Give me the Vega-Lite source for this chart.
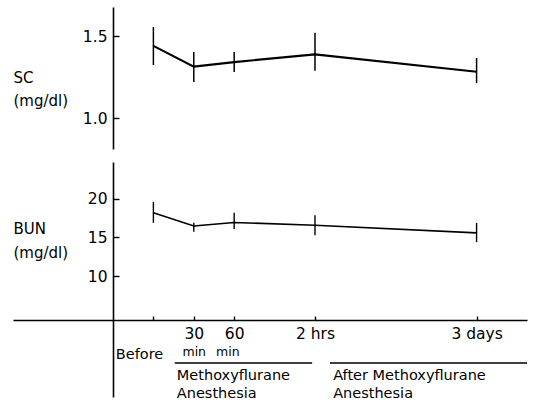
{
  "$schema": "https://vega.github.io/schema/vega-lite/v6.json",
  "background": "white",
  "padding": {"left": 13, "top": 7, "right": 10, "bottom": 5},
  "config": {
    "view": {"stroke": null},
    "font": "DejaVu Sans",
    "axis": {
      "grid": false,
      "domainColor": "black",
      "tickColor": "black",
      "labelColor": "black",
      "titleColor": "black",
      "domainWidth": 1.6,
      "tickWidth": 1.4,
      "labelFont": "DejaVu Sans",
      "titleFont": "DejaVu Sans",
      "titleFontWeight": "normal",
      "labelOverlap": false,
      "labelFlush": false
    }
  },
  "datasets": {
    "sc": [
      {"pos": 1, "mean": 1.44, "lo": 1.323, "hi": 1.555},
      {"pos": 2, "mean": 1.313, "lo": 1.22, "hi": 1.402},
      {"pos": 3, "mean": 1.341, "lo": 1.28, "hi": 1.402},
      {"pos": 5, "mean": 1.388, "lo": 1.288, "hi": 1.52},
      {"pos": 9, "mean": 1.282, "lo": 1.213, "hi": 1.366}
    ],
    "bun": [
      {"pos": 1, "mean": 18.2, "lo": 16.9, "hi": 19.6},
      {"pos": 2, "mean": 16.5, "lo": 15.75, "hi": 16.9},
      {"pos": 3, "mean": 16.95, "lo": 16.1, "hi": 18.2},
      {"pos": 5, "mean": 16.6, "lo": 15.3, "hi": 17.9},
      {"pos": 9, "mean": 15.6, "lo": 14.4, "hi": 16.9}
    ],
    "mins": [
      {"label": "min", "pos": 1.72, "line": 1.8},
      {"label": "min", "pos": 2.55, "line": 1.8}
    ],
    "notes": [
      {"label": "Before", "pos": 0.07, "line": 1.95},
      {"label": "Methoxyflurane", "pos": 1.58, "line": 3.1},
      {"label": "Anesthesia", "pos": 1.58, "line": 4.1},
      {"label": "After Methoxyflurane", "pos": 5.45, "line": 3.1},
      {"label": "Anesthesia", "pos": 5.45, "line": 4.1}
    ],
    "underlines": [
      {"pos": 1.53, "pos2": 4.93, "line": 2.39},
      {"pos": 5.37, "pos2": 10.25, "line": 2.39}
    ]
  },
  "bounds": "flush",
  "spacing": 13,
  "vconcat": [
    {
      "width": 514,
      "height": 142,
      "data": {"name": "sc"},
      "encoding": {
        "x": {"field": "pos", "type": "quantitative", "scale": {"domain": [-2.475, 10.248], "nice": false, "zero": false}, "axis": null}
      },
      "layer": [
        {
          "mark": {"type": "line", "color": "black", "strokeWidth": 2.2},
          "encoding": {
            "y": {
              "field": "mean", "type": "quantitative",
              "scale": {"domain": [0.811, 1.677], "nice": false, "zero": false},
              "axis": {
                "orient": "left", "offset": -100, "values": [1.0, 1.5], "format": ".1f",
                "tickSize": -6, "labelPadding": 12, "labelFontSize": 15.5,
                "title": ["SC", "(mg/dl)"], "titleAngle": 0, "titleAlign": "left", "titleBaseline": "alphabetic",
                "titleX": -100, "titleY": 75, "titleFontSize": 15, "titleLineHeight": 23
              }
            }
          }
        },
        {
          "mark": {"type": "rule", "color": "black", "strokeWidth": 1.5},
          "encoding": {
            "y": {"field": "lo", "type": "quantitative", "title": ["SC", "(mg/dl)"]},
            "y2": {"field": "hi"}
          }
        }
      ]
    },
    {
      "width": 514,
      "height": 235,
      "resolve": {"scale": {"y": "independent"}, "axis": {"y": "independent"}},
      "layer": [
        {
          "data": {"name": "bun"},
          "layer": [
            {
              "mark": {"type": "line", "color": "black", "strokeWidth": 1.6},
              "encoding": {
                "x": {
                  "field": "pos", "type": "quantitative",
                  "scale": {"domain": [-2.475, 10.248], "nice": false, "zero": false},
                  "axis": {
                    "orient": "bottom", "offset": -77, "values": [1, 2, 3, 5, 9],
                    "labelExpr": "datum.value == 2 ? '30' : datum.value == 3 ? '60' : datum.value == 5 ? '2 hrs' : datum.value == 9 ? '3 days' : ''",
                    "tickSize": -4, "labelPadding": 10, "labelFontSize": 15.5, "title": null
                  }
                },
                "y": {
                  "field": "mean", "type": "quantitative",
                  "scale": {"domain": [-5.714, 24.805], "nice": false, "zero": false},
                  "axis": {
                    "orient": "left", "offset": -100, "values": [10, 15, 20], "format": "d",
                    "tickSize": -6, "labelPadding": 12, "labelFontSize": 15.5,
                    "title": ["BUN", "(mg/dl)"], "titleAngle": 0, "titleAlign": "left", "titleBaseline": "alphabetic",
                    "titleX": -100, "titleY": 71, "titleFontSize": 15, "titleLineHeight": 24
                  }
                }
              }
            },
            {
              "mark": {"type": "rule", "color": "black", "strokeWidth": 1.4},
              "encoding": {
                "x": {"field": "pos", "type": "quantitative"},
                "y": {"field": "lo", "type": "quantitative", "title": ["BUN", "(mg/dl)"]},
                "y2": {"field": "hi"}
              }
            }
          ]
        },
        {
          "layer": [
            {
              "data": {"name": "mins"},
              "mark": {"type": "text", "align": "left", "baseline": "middle", "fontSize": 12.5, "color": "black"},
              "encoding": {
                "x": {"field": "pos", "type": "quantitative"},
                "y": {"field": "line", "type": "quantitative", "scale": {"domain": [-8.78, 4.28], "reverse": true, "nice": false, "zero": false}, "axis": null},
                "text": {"field": "label"}
              }
            },
            {
              "data": {"name": "notes"},
              "mark": {"type": "text", "align": "left", "baseline": "middle", "fontSize": 14.5, "color": "black"},
              "encoding": {
                "x": {"field": "pos", "type": "quantitative"},
                "y": {"field": "line", "type": "quantitative", "axis": null},
                "text": {"field": "label"}
              }
            },
            {
              "data": {"name": "underlines"},
              "mark": {"type": "rule", "color": "black", "strokeWidth": 1.3},
              "encoding": {
                "x": {"field": "pos", "type": "quantitative"},
                "x2": {"field": "pos2"},
                "y": {"field": "line", "type": "quantitative", "axis": null}
              }
            }
          ]
        }
      ]
    }
  ]
}
